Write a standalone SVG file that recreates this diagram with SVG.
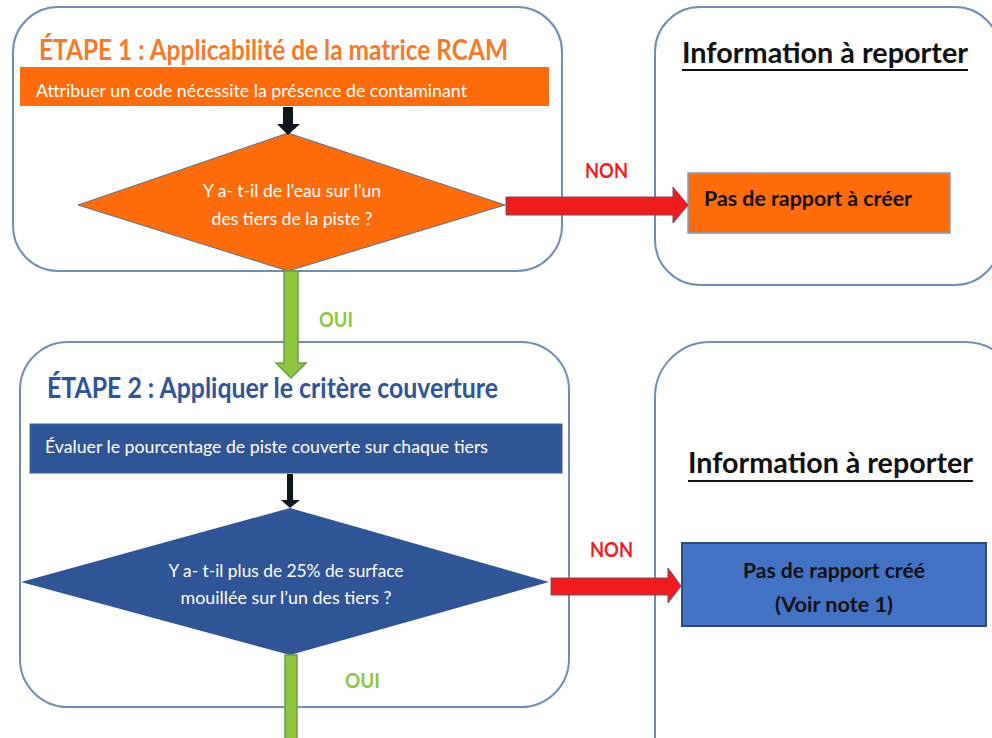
<svg xmlns="http://www.w3.org/2000/svg" width="992" height="738" viewBox="0 0 992 738">
<style>
.panel{fill:#ffffff;stroke:#6f8db5;stroke-width:2}
.t{font-family:Lato,"Open Sans","Liberation Sans",sans-serif}
.h1{font-size:28px;font-weight:bold;fill:#f47a2c}
.h2{font-size:28px;font-weight:bold;fill:#2f5597}
.bar{font-size:18px;fill:#ffffff}
.dq{font-size:17px;fill:#ffffff}
.info{font-size:28px;font-weight:bold;fill:#111111}
.res{font-size:20px;font-weight:bold;fill:#111111}
.non{font-size:20px;font-weight:bold;fill:#ee1c24}
.oui{font-size:20px;font-weight:bold;fill:#8dc63f}
.ul{stroke:#111111;stroke-width:2}
</style>
<rect width="992" height="738" fill="#ffffff"/>

<g id="panel-etape1">
<rect class="panel" x="13" y="7" width="549" height="264" rx="45"/>
<text class="t h1" x="39" y="60" textLength="469" lengthAdjust="spacingAndGlyphs">ÉTAPE 1 : Applicabilité de la matrice RCAM</text>
</g>
<g id="bar-etape1">
<rect x="20" y="67" width="529" height="39" fill="#ff6c0c"/>
<text class="t bar" x="36" y="97" textLength="431" lengthAdjust="spacingAndGlyphs">Attribuer un code nécessite la présence de contaminant</text>
</g>
<g id="decision1">
<polygon points="288,133 505,205 288,271 78,205" fill="#ff6c0c" stroke="#5a6f8f" stroke-width="1"/>
<text class="t dq" x="292" y="197" text-anchor="middle" textLength="178" lengthAdjust="spacingAndGlyphs">Y a- t-il de l’eau sur l’un</text>
<text class="t dq" x="292" y="225" text-anchor="middle" textLength="161" lengthAdjust="spacingAndGlyphs">des tiers de la piste ?</text>
</g>

<g id="panel-info1">
<rect class="panel" x="655" y="7" width="345" height="278" rx="45"/>
<text class="t info" x="682" y="63" textLength="286" lengthAdjust="spacingAndGlyphs">Information à reporter</text>
<line class="ul" x1="682" y1="70" x2="968" y2="70"/>
</g>
<g id="result1">
<rect x="688" y="173" width="262" height="60" fill="#ff6c0c" stroke="#7f9cc4" stroke-width="1.5"/>
<text class="t res" x="704" y="206" textLength="208" lengthAdjust="spacingAndGlyphs">Pas de rapport à créer</text>
</g>

<g id="panel-etape2">
<rect class="panel" x="20" y="342" width="549" height="365" rx="48"/>
<text class="t h2" x="47" y="398" textLength="451" lengthAdjust="spacingAndGlyphs">ÉTAPE 2 : Appliquer le critère couverture</text>
</g>
<g id="bar-etape2">
<rect x="30" y="424" width="532" height="49" fill="#2f5597" stroke="#3d5f96" stroke-width="1"/>
<text class="t bar" x="45" y="453" textLength="443" lengthAdjust="spacingAndGlyphs">Évaluer le pourcentage de piste couverte sur chaque tiers</text>
</g>
<g id="decision2">
<polygon points="290,508 549,582 290,655 21,582" fill="#2f5597"/>
<text class="t dq" x="286" y="577" text-anchor="middle" textLength="235" lengthAdjust="spacingAndGlyphs">Y a- t-il plus de 25% de surface</text>
<text class="t dq" x="286" y="604" text-anchor="middle" textLength="211" lengthAdjust="spacingAndGlyphs">mouillée sur l’un des tiers ?</text>
</g>

<g id="panel-info2">
<rect class="panel" x="655" y="342" width="365" height="460" rx="55"/>
<text class="t info" x="688" y="473" textLength="285" lengthAdjust="spacingAndGlyphs">Information à reporter</text>
<line class="ul" x1="688" y1="481" x2="973" y2="481"/>
</g>
<g id="result2">
<rect x="682" y="543" width="304" height="83" fill="#4472c4" stroke="#2c4a7a" stroke-width="2"/>
<text class="t res" x="834" y="578" text-anchor="middle" textLength="182" lengthAdjust="spacingAndGlyphs">Pas de rapport créé</text>
<text class="t res" x="834" y="612" text-anchor="middle" textLength="118" lengthAdjust="spacingAndGlyphs">(Voir note 1)</text>
</g>

<g id="connectors">
<polygon points="283,107 293,107 293,124 300,124 288,135 277,124 283,124" fill="#111418"/>
<polygon points="287,474 293,474 293,500 300,500 290,508 281,500 287,500" fill="#111418"/>
<polygon points="284,271 298,271 298,363 306,363 291,378 276,363 284,363" fill="#8dc63f" stroke="#6f9a4a" stroke-width="1.5"/>
<polygon points="285,655 297,655 297,742 285,742" fill="#8dc63f" stroke="#6f9a4a" stroke-width="1.5"/>
<polygon points="506,197 673,197 673,187 688,205 673,223 673,215 506,215" fill="#ee1c1c" stroke="#7a4a66" stroke-width="1"/>
<polygon points="551,578 668,578 668,568 681,586 668,603 668,595 551,595" fill="#ee1c1c" stroke="#7a4a66" stroke-width="1"/>
<text class="t non" x="585" y="178" textLength="43" lengthAdjust="spacingAndGlyphs">NON</text>
<text class="t non" x="590" y="557" textLength="43" lengthAdjust="spacingAndGlyphs">NON</text>
<text class="t oui" x="319" y="327" textLength="34" lengthAdjust="spacingAndGlyphs">OUI</text>
<text class="t oui" x="345" y="688" textLength="35" lengthAdjust="spacingAndGlyphs">OUI</text>
</g>
</svg>
